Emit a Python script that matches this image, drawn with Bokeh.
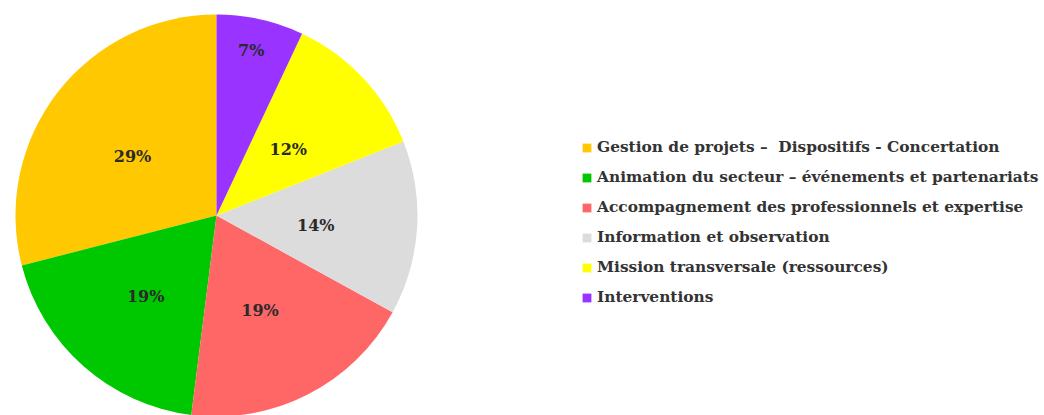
import math
from bokeh.plotting import figure
from bokeh.models import Range1d, ColumnDataSource, Legend, LegendItem
from bokeh.core.properties import value
from bokeh.embed import file_html
from bokeh.resources import INLINE

categories = [
    "Gestion de projets \u2013  Dispositifs - Concertation",
    "Animation du secteur \u2013 \u00e9v\u00e9nements et partenariats",
    "Accompagnement des professionnels et expertise",
    "Information et observation",
    "Mission transversale (ressources)",
    "Interventions",
]
shares = [29, 19, 19, 14, 12, 7]
colors = ["#FFC800", "#00C800", "#FF6666", "#DCDCDC", "#FFFF00", "#9933FF"]

W, H = 1040, 415
CX, CY, R = 216, 200, 201
FONT = "DejaVu Serif"

total = sum(shares)
starts, ends, lx, ly, labels = [], [], [], [], []
a = math.pi / 2
for s in shares:
    da = 2 * math.pi * s / total
    starts.append(a)
    ends.append(a + da)
    mid = a + da / 2
    rf = 0.86 if s < 10 else 0.51
    lx.append(CX + rf * R * math.cos(mid))
    ly.append(CY + rf * R * math.sin(mid))
    labels.append(f"{s}%")
    a += da

src = ColumnDataSource(dict(start=starts, end=ends, color=colors, cat=categories,
                            lx=lx, ly=ly, label=labels))

p = figure(width=W, height=H, output_backend="svg", toolbar_location=None,
           x_range=Range1d(0, W), y_range=Range1d(0, H), min_border=0)
p.axis.visible = False
p.grid.visible = False
p.outline_line_color = None
p.background_fill_color = "white"

wedges = p.wedge(x=CX, y=CY, radius=R, start_angle="start", end_angle="end",
                 fill_color="color", line_color=None, source=src)

p.text(x="lx", y="ly", text="label", source=src, text_align="center",
       text_baseline="middle", text_font=value(FONT), text_font_size="16px",
       text_font_style="bold", text_color="#2a2a2a", x_offset=-3, y_offset=4)

items = [LegendItem(label=categories[i], renderers=[wedges], index=i) for i in range(len(categories))]
legend = Legend(items=items, location=(581, 108), orientation="vertical",
                glyph_width=11, glyph_height=11, label_height=20, spacing=10,
                label_standoff=5, padding=0, margin=0,
                border_line_color=None, background_fill_alpha=0,
                label_text_font=FONT, label_text_font_size="15.4px",
                label_text_font_style="bold", label_text_color="#333333")
p.add_layout(legend)

open("out.html", "w").write(file_html(p, INLINE))
